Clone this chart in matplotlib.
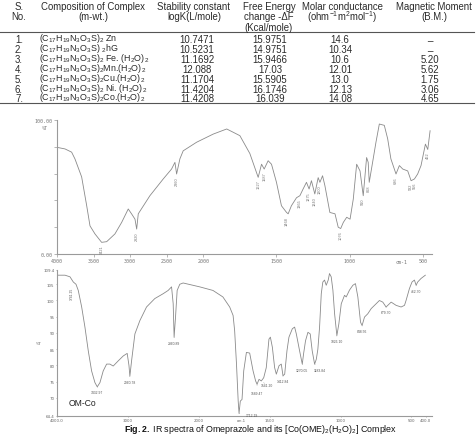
import numpy as np
import matplotlib
matplotlib.use("Agg")
import matplotlib.pyplot as plt

plt.rcParams['font.family'] = ['Liberation Sans', 'DejaVu Sans']
plt.rcParams['mathtext.fontset'] = 'custom'
plt.rcParams['mathtext.rm'] = 'Liberation Sans'
plt.rcParams['mathtext.it'] = 'Liberation Sans:italic'
plt.rcParams['mathtext.bf'] = 'Liberation Sans:bold'

# ---------------- table data ----------------
serial = ["1.", "2.", "3.", "4.", "5.", "6.", "7."]
composition = [
    r"(C$_{17}$H$_{19}$N$_3$O$_3$S)$_2$ Zn",
    r"(C$_{17}$H$_{19}$N$_3$O$_3$S) $_2$hG",
    r"(C$_{17}$H$_{19}$N$_3$O$_3$S)$_2$ Fe. (H$_2$O)$\,_2$",
    r"(C$_{17}$H$_{19}$N$_3$O$_3$S)$_2$Mn.(H$_2$O)$\,_2$",
    r"(C$_{17}$H$_{19}$N$_3$O$_3$S)$_2$Cu.(H$_2$O)$\,_2$",
    r"(C$_{17}$H$_{19}$N$_3$O$_3$S)$_2$ Ni. (H$_2$O)$\,_2$",
    r"(C$_{17}$H$_{19}$N$_3$O$_3$S)$_2$Co.(H$_2$O)$\,_2$",
]
stability = ["10.7471", "10.5231", "11.1692", "12.088", "11.1704", "11.4204", "11.4208"]
free_energy = ["15.9751", "14.9751", "15.9466", "17.03", "15.5905", "16.1746", "16.039"]
molar = ["14.6", "10.34", "10.6", "12.01", "13.0", "12.13", "14.08"]
magnetic = ["_", "_", "5.20", "5.62", "1.75", "3.06", "4.65"]

headers = [
    ["S.", "No."],
    ["Composition of Complex", "(m-wt.)"],
    ["Stability constant", "logK(L/mole)"],
    ["Free Energy", "change -ΔF", "(Kcal/mole)"],
    ["Molar conductance", r"(ohm$^{-1}$m$^{2}$mol$^{-1}$)"],
    ["Magnetic Moment", "(B.M.)"],
]

# ---------------- spectrum 1 (Omeprazole) ----------------
wn1 = [4000, 3890, 3800, 3754, 3663, 3594, 3549, 3481, 3390, 3321, 3208, 3116, 3026,
       2980, 2934, 2911, 2889, 2730, 2548, 2434, 2388, 2365, 2320, 2275, 2092, 1932,
       1840, 1750, 1682, 1625, 1602, 1584, 1557, 1534, 1500, 1466, 1431, 1420, 1398,
       1363, 1340, 1318, 1295, 1277, 1261, 1238, 1215, 1203, 1185, 1169, 1135, 1100,
       1078, 1061, 1043, 1020, 997, 975, 952, 929, 907, 884, 873, 866, 843, 820, 797,
       763, 740, 718, 683, 660, 637, 603, 580, 557, 535, 512, 482, 466, 450]
tr1 = [79.6, 78.4, 76.0, 70.9, 57.5, 36.0, 21.0, 15.0, 8.7, 9.2, 15.0, 23.6, 33.6,
       29.9, 26.0, 18.6, 30.0, 43.5, 56.0, 63.4, 68.4, 59.7, 71.0, 77.0, 83.4, 89.5,
       93.3, 88.3, 75.0, 57.2, 67.0, 63.4, 69.6, 67.0, 53.5, 36.0, 31.0, 30.0, 36.0,
       42.0, 43.5, 48.5, 53.5, 48.5, 54.7, 44.8, 57.0, 53.5, 58.4, 51.0, 31.0, 30.0,
       20.0, 19.0, 23.6, 27.4, 26.0, 41.0, 67.0, 62.0, 43.5, 72.0, 68.4, 53.5, 68.4,
       83.4, 97.0, 96.0, 86.0, 71.0, 59.7, 66.0, 63.4, 62.0, 54.7, 56.0, 59.7, 66.0,
       82.0, 78.0, 92.0]
peaks1_wn = [3390, 2911, 2365, 1625, 1584, 1431, 1340, 1277, 1238, 1203, 1061, 907, 866, 683, 580, 557, 466]
peaks1_tr = [8.7, 18.6, 59.7, 57.2, 63.4, 30.0, 43.5, 48.5, 44.8, 53.5, 19.0, 43.5, 53.5, 59.7, 54.7, 56.0, 78.0]
peaks1_txt = ["3421", "2920", "2360", "1627", "1587", "1468", "1365", "1275", "1240",
              "1200", "1076", "910", "868", "686", "582", "556", "462"]
xt1 = [4000, 3500, 3000, 2500, 2000, 1500, 1000, 500]
xt1_lab = ["4000", "3500", "3000", "2500", "2000", "1500", "1000", "500"]

# ---------------- spectrum 2 (OM-Co) ----------------
wn2 = [3982, 3887, 3817, 3770, 3732, 3700, 3652, 3606, 3559, 3512, 3465, 3432, 3394,
       3348, 3300, 3254, 3207, 3136, 3066, 3010, 2985, 2972, 2948, 2901, 2831, 2737,
       2620, 2502, 2432, 2384, 2361, 2348, 2328, 2305, 2268, 2221, 1993, 1900, 1830,
       1782, 1758, 1747, 1734, 1722, 1716, 1707, 1695, 1683, 1664, 1641, 1617, 1599,
       1589, 1575, 1559, 1542, 1524, 1505, 1495, 1481, 1465, 1453, 1434, 1418, 1406,
       1394, 1378, 1364, 1340, 1324, 1312, 1289, 1270, 1261, 1247, 1230, 1214, 1200,
       1183, 1171, 1160, 1148, 1136, 1125, 1113, 1101, 1087, 1078, 1066, 1054, 1042,
       1026, 1012, 995, 972, 960, 937, 913, 895, 878, 859, 848, 831, 808, 784, 749,
       726, 702, 679, 667, 643, 608, 573, 549, 538, 514, 496, 479, 467, 456, 432, 402]
tr2 = [107.8, 107.8, 107.3, 105.7, 105.0, 103.1, 98.0, 91.8, 84.5, 78.3, 74.7, 73.4, 74.7,
       78.3, 80.4, 80.4, 79.8, 81.4, 82.9, 83.7, 80.0, 76.7, 81.4, 89.7, 93.8, 98.0,
       100.6, 102.1, 103.1, 104.2, 99.0, 88.7, 94.9, 103.1, 105.0, 105.4, 104.2, 103.1, 101.1,
       98.0, 95.4, 90.7, 80.4, 69.0, 65.2, 69.0, 69.5, 78.3, 84.0, 83.8, 78.3, 75.2,
       74.2, 75.7, 75.2, 76.2, 79.3, 88.1, 88.7, 85.6, 79.3, 77.3, 79.9, 80.4, 76.8,
       77.3, 84.5, 88.7, 91.3, 91.8, 89.7, 84.5, 80.4, 83.5, 87.6, 90.2, 89.7, 84.5,
       80.4, 81.9, 85.0, 91.8, 102.1, 105.7, 106.3, 104.7, 106.3, 108.3, 107.3, 103.2, 95.9,
       89.2, 92.8, 99.0, 101.6, 101.1, 103.2, 104.7, 105.2, 101.1, 93.3, 92.3, 94.9, 95.9, 97.5, 99.0,
       100.0, 99.5, 98.0, 98.5, 99.5, 98.5, 98.0, 98.5, 100.0, 103.7, 105.7, 106.3, 104.7, 105.7, 106.8, 107.8]
peaks2_wn = [3432, 2972, 2348, 1716, 1589, 1559, 1406, 1270, 1183, 1026, 848, 679, 467]
peaks2_tr = [73.4, 76.7, 88.7, 65.2, 74.2, 75.2, 76.8, 80.4, 80.4, 89.2, 92.3, 98.0, 104.7]
peaks2_txt = ["3432.97", "2960.78", "2360.89", "1712.19", "1589.47", "1541.20", "1412.84",
              "1270.05", "1183.84", "1026.10", "848.56", "679.70", "462.70"]
peaks2_dx = [0, 0, 0, 9, 0, 4, 0, 0, 4, 0, 0, 0, 0]
peaks2_dy = [-2.5, -2.5, -2.5, 0, -5, -1.5, -2.5, -2.5, -2.5, -2.5, -2.5, -2.5, -2.5]
xt2 = [4000, 3000, 2000, 1500, 1000, 500, 400]
xt2_lab = ["4000.0", "3000", "2000", "1500", "1000", "500", "400.0"]
yt2 = [64.4, 70, 75, 80, 85, 90, 95, 100, 105, 109.4]
yt2_lab = ["64.4", "70", "75", "80", "85", "90", "95", "100", "105", "109.4"]


def fwd(w):
    w = np.asarray(w, dtype=float)
    return np.where(w >= 2000, w / 500.0, 4.0 - (2000.0 - w) / 250.0)


def inv(u):
    u = np.asarray(u, dtype=float)
    return np.where(u >= 4, u * 500.0, 2000.0 - (4.0 - u) * 250.0)


W, H = 477, 435
fig = plt.figure(figsize=(W / 100, H / 100), dpi=100)
fig.patch.set_facecolor("white")

# ---------------- table ----------------
axt = fig.add_axes([0, 0, 1, 1])
axt.set_xlim(0, W)
axt.set_ylim(H, 0)
axt.axis("off")

fs = 6.9
tcol = "#2a2a2a"
col_x = [19, 93, 194, 269, 342, 434]
head_y = [7.5, 17.5, 28.3]
for cx, lines in zip(col_x, headers):
    for i, line in enumerate(lines):
        axt.text(cx, head_y[i], line, ha="center", va="center", fontsize=fs, color=tcol)
axt.axhline(33, xmin=0, xmax=474 / W, color="#555", lw=0.8)
axt.axhline(104, xmin=0, xmax=474 / W, color="#555", lw=0.8)

row_y = [40, 50, 60, 70, 80, 90, 99.5]
for i, ry in enumerate(row_y):
    axt.text(19, ry, serial[i], ha="center", va="center", fontsize=fs, color=tcol)
    axt.text(39, ry + 0.8, composition[i], ha="left", va="baseline", fontsize=6.4, color=tcol,
             transform=axt.transData)
    axt.text(197, ry, stability[i], ha="center", va="center", fontsize=fs, color=tcol)
    axt.text(270, ry, free_energy[i], ha="center", va="center", fontsize=fs, color=tcol)
    axt.text(340, ry, molar[i], ha="center", va="center", fontsize=fs, color=tcol)
    mv = magnetic[i]
    axt.text(430, ry - (3 if mv == "_" else 0), mv, ha="center", va="center", fontsize=fs, color=tcol)

axt.text(261, 432.3, r"$\mathbf{Fig.2.}$ IR spectra of Omeprazole and its [Co(OME)$_2$(H$_2$O)$_2$] Complex",
         ha="center", va="baseline", fontsize=6.4, color="#111")

gray_line = "#8a8a8a"
axis_col = "#9a9a9a"
tick_font = dict(family="DejaVu Sans Mono", size=3.6)

# ---------------- spectrum 1 ----------------
ax1 = fig.add_axes([57 / W, 1 - 255 / H, (432 - 57) / W, (255 - 121) / H])
ax1.set_xscale("function", functions=(fwd, inv))
ax1.plot(wn1, tr1, color=gray_line, lw=0.6)
ax1.set_xlim(4000, 437)
ax1.set_ylim(0, 100)
for s in ["top", "right"]:
    ax1.spines[s].set_visible(False)
for s in ["left", "bottom"]:
    ax1.spines[s].set_color(axis_col)
    ax1.spines[s].set_linewidth(0.8)
ax1.set_xticks(xt1)
ax1.set_xticklabels(xt1_lab, fontdict=tick_font, color="#777")
ax1.set_yticks([0, 20, 40, 60, 80, 100])
ax1.set_yticklabels(["0.00", "", "", "", "", "100.00"], fontdict=tick_font, color="#777")
ax1.tick_params(axis="both", length=2, width=0.5, color=axis_col, pad=1)
ax1.xaxis.set_minor_locator(matplotlib.ticker.NullLocator())
ax1.text(-0.025, 0.945, "%T", transform=ax1.transAxes, ha="right", va="center",
         fontsize=3.6, family="DejaVu Sans Mono", color="#777")
ax1.text(0.919, -0.035, "cm-1", transform=ax1.transAxes, ha="center", va="top",
         fontsize=3.6, family="DejaVu Sans Mono", color="#777")
for w, t, s in zip(peaks1_wn, peaks1_tr, peaks1_txt):
    ax1.annotate(s, (w, t), xytext=(0, -1.5), textcoords="offset points", rotation=90,
                 ha="center", va="top", fontsize=2.8, color="#777")
ax1.patch.set_alpha(0)

# ---------------- spectrum 2 ----------------
ax2 = fig.add_axes([57 / W, 1 - 417 / H, (432 - 57) / W, (417 - 271) / H])
ax2.set_xscale("function", functions=(fwd, inv))
ax2.plot(wn2, tr2, color=gray_line, lw=0.6)
ax2.set_xlim(4000, 355)
ax2.set_ylim(64.4, 109.4)
for s in ["top", "right"]:
    ax2.spines[s].set_visible(False)
for s in ["left", "bottom"]:
    ax2.spines[s].set_color(axis_col)
    ax2.spines[s].set_linewidth(0.8)
ax2.set_xticks(xt2)
ax2.set_xticklabels(xt2_lab, fontdict=dict(family="DejaVu Sans", size=2.9), color="#666")
ax2.set_yticks(yt2)
ax2.set_yticklabels(yt2_lab, fontdict=dict(family="DejaVu Sans", size=2.9), color="#666")
ax2.tick_params(axis="both", length=1.0, width=0.5, color=axis_col, pad=0.8)
ax2.xaxis.set_minor_locator(matplotlib.ticker.NullLocator())
ax2.text(-0.04, 0.5, "%T", transform=ax2.transAxes, ha="right", va="center",
         fontsize=2.9, color="#666")
ax2.text(0.4925, -0.012, "cm-1", transform=ax2.transAxes, ha="center", va="top",
         fontsize=2.9, color="#666")
ax2.text(0.03, 0.09, "OM-Co", transform=ax2.transAxes, ha="left", va="center",
         fontsize=6.2, color="#222")
for w, t, s, dx, dy in zip(peaks2_wn, peaks2_tr, peaks2_txt, peaks2_dx, peaks2_dy):
    ax2.annotate(s, (w, t), xytext=(dx, dy), textcoords="offset points",
                 ha="center", va="top", fontsize=2.4, color="#555",
                 arrowprops=dict(arrowstyle="-", color="#999", lw=0.3))
ax2.annotate("3741.25", (3732, 105.0), xytext=(-1.5, -2), textcoords="offset points", rotation=90,
             ha="right", va="top", fontsize=2.4, color="#555")
ax2.patch.set_alpha(0)

fig.savefig("out.png", dpi=100, facecolor="white")
